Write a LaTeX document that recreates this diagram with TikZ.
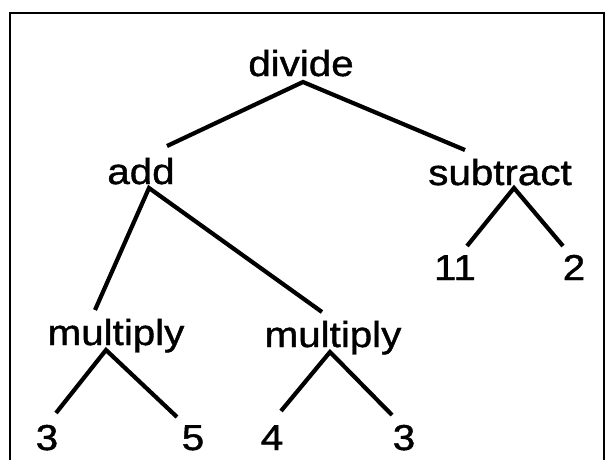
\documentclass[tikz,border=0pt]{standalone}
\usepackage{fontspec}
\usepackage{tikz}
\usetikzlibrary{positioning}
\newfontfamily\treefont[FakeStretch=1.12,FakeBold=1.2]{Liberation Sans}

\begin{document}
\begin{tikzpicture}[x=1pt, y=-1pt,
	op/.style={inner sep=0pt, anchor=base, font=\treefont\fontsize{36}{42}\selectfont},
	wire/.style={line width=4.2pt, line join=miter}]
	\useasboundingbox (0,0) rectangle (610,459);
	%%%%%%%%%%%%%%%%%%%%%%%%%%%%%%%%%%%%%%%%%%%%%%%%%%%%%%%%%%
	% frame (open at the bottom)
	\draw[line width=2.6pt] (10,470) -- (10,13) -- (604,13) -- (604,470);
	%%%%%%%%%%%%%%%%%%%%%%%%%%%%%%%%%%%%%%%%%%%%%%%%%%%%%%%%%%
	% operators
	\node[op] (divide) at (301,76) {divide};
	\node[op] (add) at (141,184) {add};
	\node[op] (subtract) at (500,185) {subtract};
	\node[op] (multA) at (116,345) {multiply};
	\node[op] (multB) at (333,347) {multiply};
	% numbers
	\node[op] (eleven) at (455,280) {11};
	\node[op] (two) at (574,280) {2};
	\node[op] (threeA) at (47,450) {3};
	\node[op] (five) at (193,450) {5};
	\node[op] (four) at (272,450) {4};
	\node[op] (threeB) at (404,450) {3};
	%%%%%%%%%%%%%%%%%%%%%%%%%%%%%%%%%%%%%%%%%%%%%%%%%%%%%%%%%%
	% divide branches
	\draw[wire] ([xshift=26pt,yshift=38pt]add.base) -- ([xshift=2pt,yshift=-6pt]divide.base) -- ([xshift=-35pt,yshift=35pt]subtract.base);
	
	% add branches
	\draw[wire] ([xshift=-21pt,yshift=35pt]multA.base) -- ([xshift=8pt,yshift=-4pt]add.base) -- ([xshift=-11pt,yshift=35pt]multB.base);
	
	% subtract branches
	\draw[wire] ([xshift=12pt,yshift=34pt]eleven.base) -- ([xshift=14pt,yshift=-3pt]subtract.base) -- ([xshift=-11pt,yshift=34pt]two.base);
	
	% multiply branches
	\draw[wire] ([xshift=9pt,yshift=37pt]threeA.base) -- ([xshift=-10pt,yshift=-5pt]multA.base) -- ([xshift=-16pt,yshift=33pt]five.base);
	\draw[wire] ([xshift=9pt,yshift=39pt]four.base) -- ([xshift=-3pt,yshift=-5pt]multB.base) -- ([xshift=-12pt,yshift=35pt]threeB.base);
	
\end{tikzpicture}
\end{document}
